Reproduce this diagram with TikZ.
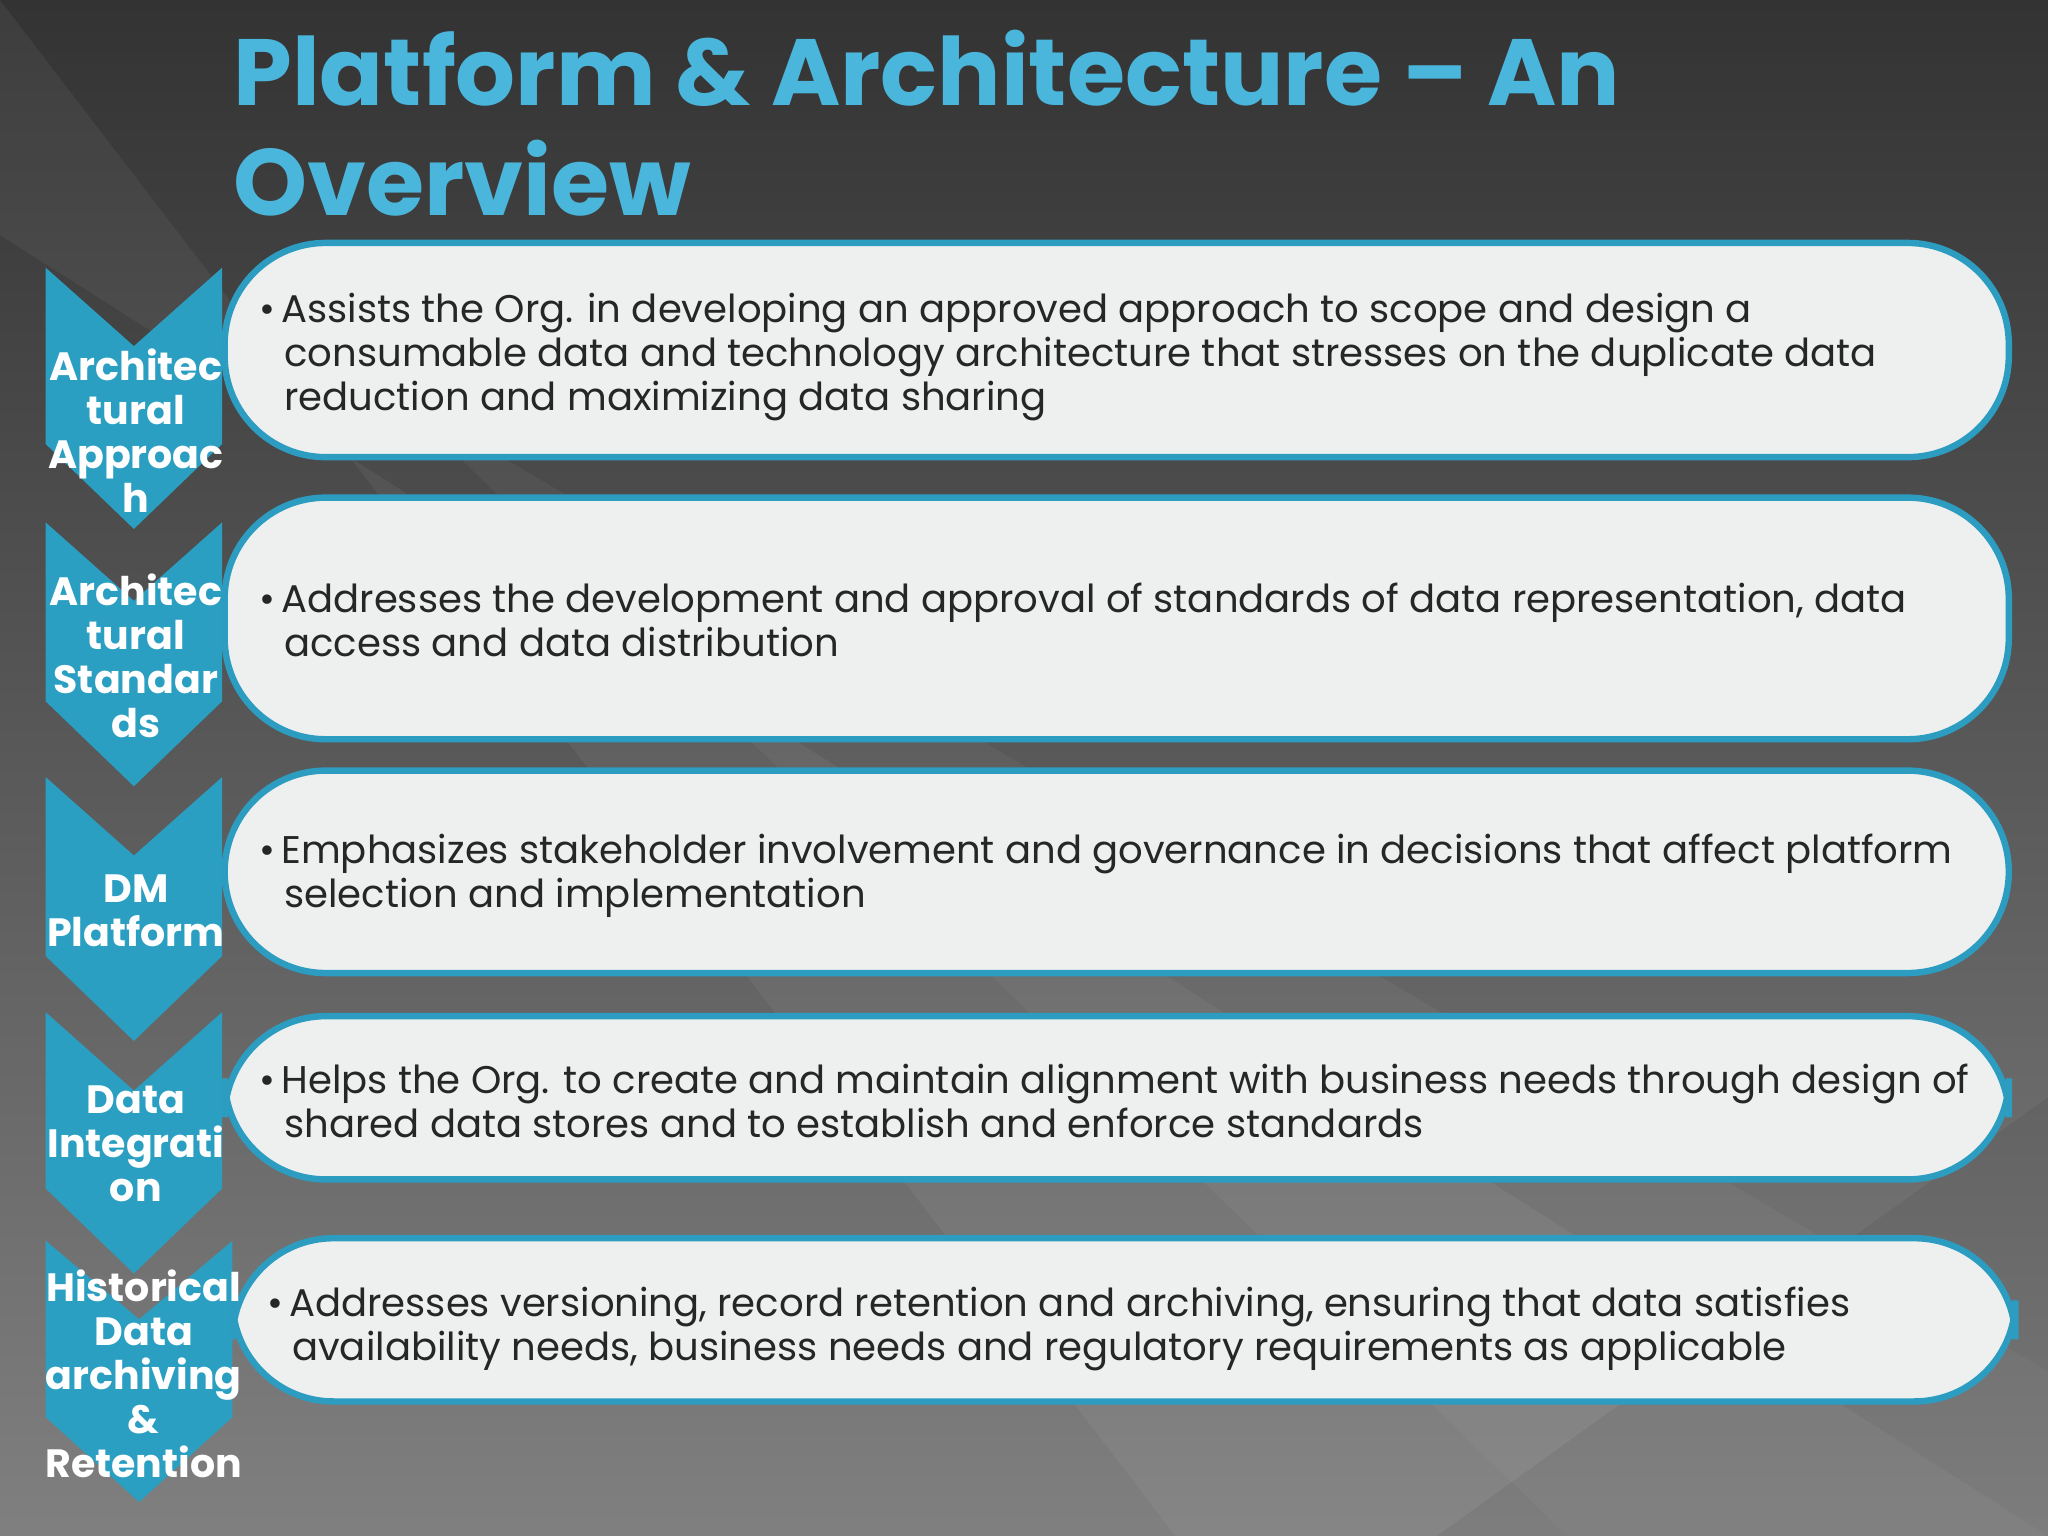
\documentclass[tikz,border=0pt]{standalone}
\usepackage{fontspec}
\setmainfont{Poppins}
\begin{document}
\begin{tikzpicture}[x=0.01cm,y=-0.01cm,
  chev/.style={fill=chevc,draw=none},
  box/.style={fill=boxc,draw=bordc,line width=1.4pt},
  lab/.style={text=white,font=\bfseries\fontsize{8.6}{9.6}\selectfont,align=center},
  txt/.style={anchor=north west,align=left,font=\fontsize{8.4}{9.6}\selectfont,text=black!85}]
\definecolor{chevc}{HTML}{2A9FC2}
\definecolor{bordc}{HTML}{2C9CC0}
\definecolor{boxc}{HTML}{EEF0F0}
\definecolor{titc}{HTML}{4AB6DC}
\useasboundingbox (0,0) rectangle (1568,1176);
\shade[top color=black!80, bottom color=black!50] (0,0) rectangle (1568,1176);
\fill[white,opacity=0.05] (0,0) -- (0,180) -- (1568,1176) -- (900,1176) -- cycle;
\fill[white,opacity=0.04] (300,300) -- (1568,1050) -- (1568,1176) -- (1200,1176) -- cycle;
\fill[black,opacity=0.06] (1568,840) -- (1100,1176) -- (1568,1176) -- cycle;
\node[anchor=north west,text=titc,font=\bfseries\fontsize{20.5}{24}\selectfont,align=left,inner sep=0] (title) at (178,22) {Platform \& Architecture -- An\\Overview};
% chevrons
\foreach \t/\b/\r/\n in {205/405/170/c1,400/602/170/c2,595/797/170/c3,775/975/170/c4,950/1150/178/c5}{
  \fill[chev] (35,\t) -- ({(35+\r)/2},\t+60) -- (\r,\t) -- (\r,\b-65) -- ({(35+\r)/2},\b) -- (35,\b-65) -- cycle;
}
\coordinate (k1) at (104,330); \coordinate (k2) at (104,502);
\coordinate (k3) at (104,697); \coordinate (k4) at (104,876);
\coordinate (k5) at (110,1052);
% boxes
\draw[box,rounded corners=22pt] (172,186) -- (1538,186) -- (1538,350) -- (172,350) -- cycle;
\draw[box,rounded corners=22pt] (172,381) -- (1538,381) -- (1538,566) -- (172,566) -- cycle;
\draw[box,rounded corners=22pt] (172,590) -- (1538,590) -- (1538,745) -- (172,745) -- cycle;
\draw[box,rounded corners=22pt] (172,778) -- (1538,778) -- (1538,903) -- (172,903) -- cycle;
\draw[box,rounded corners=22pt] (178,948) -- (1543,948) -- (1543,1073) -- (178,1073) -- cycle;
\node[lab] (l1) at (k1) {Architec\\tural\\Approac\\h};
\node[lab] (l2) at (k2) {Architec\\tural\\Standar\\ds};
\node[lab] (l3) at (k3) {DM\\Platform};
\node[lab] (l4) at (k4) {Data\\Integrati\\on};
\node[lab] (l5) at (k5) {Historical\\Data\\archiving\\\&\\Retention};
\node[txt] (t1) at (186,212) {\textbullet\,Assists the Org. in developing an approved approach to scope and design a\\\hspace*{5.5pt}consumable data and technology architecture that stresses on the duplicate data\\\hspace*{5.5pt}reduction and maximizing data sharing};
\node[txt] (t2) at (186,434) {\textbullet\,Addresses the development and approval of standards of data representation, data\\\hspace*{5.5pt}access and data distribution};
\node[txt] (t3) at (186,626) {\textbullet\,Emphasizes stakeholder involvement and governance in decisions that affect platform\\\hspace*{5.5pt}selection and implementation};
\node[txt] (t4) at (186,802) {\textbullet\,Helps the Org. to create and maintain alignment with business needs through design of\\\hspace*{5.5pt}shared data stores and to establish and enforce standards};
\node[txt] (t5) at (192,973) {\textbullet\,Addresses versioning, record retention and archiving, ensuring that data satisfies\\\hspace*{5.5pt}availability needs, business needs and regulatory requirements as applicable};
\end{tikzpicture}
\end{document}
